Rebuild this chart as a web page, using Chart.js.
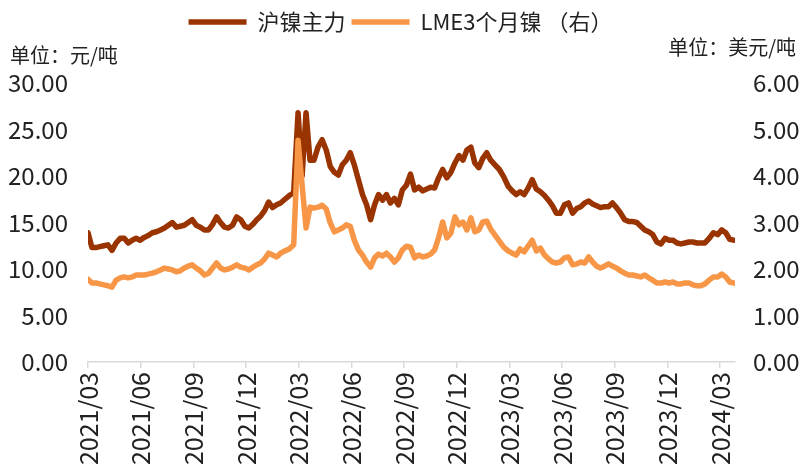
<!DOCTYPE html>
<html>
<head>
<meta charset="utf-8">
<title>沪镍主力 / LME3个月镍</title>
<script src="https://cdn.jsdelivr.net/npm/chart.js@4"></script>
<style>
  html, body { margin: 0; padding: 0; background: #fff; }
  #wrap { width: 801px; height: 468px; }
</style>
</head>
<body>
<div id="wrap"><canvas id="Graph"></canvas></div>
<script>
// weekly closes starting from the first week of 2021/03
const startDate = [2021, 3, 1];

// 沪镍主力, 万元/吨 (left axis)
const shNickel = [
  13.9, 12.3, 12.3, 12.4, 12.5, 12.6, 12.0, 12.8, 13.3, 13.3,
  12.8, 13.1, 13.3, 13.1, 13.4, 13.6, 13.9, 14.0, 14.2, 14.4,
  14.7, 15.0, 14.5, 14.6, 14.7, 15.0, 15.3, 14.7, 14.5, 14.2,
  14.2, 14.8, 15.6, 15.0, 14.5, 14.4, 14.7, 15.6, 15.3, 14.6,
  14.4, 14.8, 15.3, 15.7, 16.3, 17.2, 16.6, 16.9, 17.1, 17.5,
  17.9, 18.2, 26.8, 20.0, 26.8, 21.7, 21.7, 23.1, 23.9, 22.8,
  21.0, 20.4, 20.1, 21.2, 21.7, 22.5, 21.2, 19.6, 18.0, 16.9,
  15.3, 16.9, 18.0, 17.4, 18.0, 17.1, 17.6, 16.9, 18.5, 19.0,
  20.2, 18.5, 18.8, 18.4, 18.6, 18.8, 18.7, 19.8, 20.7, 19.8,
  20.4, 21.4, 22.2, 21.7, 22.8, 23.1, 21.4, 20.9, 21.9, 22.5,
  21.7, 21.2, 20.7, 19.9, 18.9, 18.4, 18.0, 18.3, 18.0, 18.7,
  19.6, 18.6, 18.3, 17.9, 17.4, 16.8, 16.0, 16.0, 16.9, 17.1,
  16.0, 16.5, 16.7, 17.1, 17.3, 17.0, 16.8, 16.6, 16.7, 16.7,
  17.1, 16.6, 16.0, 15.3, 15.1, 15.1, 15.0, 14.6, 14.2, 14.0,
  13.7, 12.9, 12.7, 13.3, 13.1, 13.1, 12.8, 12.7, 12.8, 12.9,
  12.9, 12.8, 12.8, 12.8, 13.3, 13.9, 13.7, 14.2, 13.9, 13.2,
  13.1
];

// LME3个月镍, 万美元/吨 (right axis)
const lmeNickel = [
  1.78, 1.70, 1.70, 1.68, 1.66, 1.64, 1.61, 1.76, 1.81, 1.83,
  1.81, 1.83, 1.87, 1.87, 1.87, 1.89, 1.91, 1.94, 1.98, 2.02,
  2.00, 1.98, 1.94, 1.96, 2.02, 2.06, 2.09, 2.02, 1.96, 1.87,
  1.91, 2.02, 2.13, 2.02, 1.98, 2.00, 2.04, 2.09, 2.04, 2.02,
  1.98, 2.04, 2.09, 2.13, 2.22, 2.34, 2.30, 2.26, 2.34, 2.39,
  2.43, 2.52, 4.77, 3.81, 2.88, 3.33, 3.31, 3.33, 3.37, 3.29,
  2.99, 2.80, 2.84, 2.88, 2.95, 2.92, 2.62, 2.41, 2.30, 2.15,
  2.04, 2.24, 2.32, 2.28, 2.34, 2.26, 2.15, 2.24, 2.41, 2.49,
  2.47, 2.24, 2.30, 2.26, 2.28, 2.32, 2.41, 2.67, 3.01, 2.67,
  2.77, 3.12, 2.95, 3.01, 2.84, 3.10, 2.80, 2.84, 3.01, 3.03,
  2.86, 2.73, 2.60, 2.47, 2.39, 2.34, 2.30, 2.43, 2.37, 2.49,
  2.62, 2.39, 2.45, 2.30, 2.22, 2.15, 2.13, 2.15, 2.24, 2.26,
  2.09, 2.11, 2.15, 2.13, 2.26, 2.15, 2.06, 2.02, 2.06, 2.11,
  2.06, 2.02, 1.96, 1.91, 1.87, 1.87, 1.85, 1.83, 1.87, 1.81,
  1.76, 1.70, 1.70, 1.72, 1.70, 1.72, 1.68, 1.68, 1.70, 1.70,
  1.66, 1.64, 1.64, 1.68, 1.76, 1.83, 1.83, 1.89, 1.83, 1.72,
  1.70
];

const tickLabels = [
  '2021/03', '2021/06', '2021/09', '2021/12',
  '2022/03', '2022/06', '2022/09', '2022/12',
  '2023/03', '2023/06', '2023/09', '2023/12',
  '2024/03'
];

const leftUnit = '单位：元/吨';
const rightUnit = '单位：美元/吨';

// months elapsed since 2021/03, fractional within the month
function monthOffset(d) {
  const days = new Date(d.getFullYear(), d.getMonth() + 1, 0).getDate();
  return (d.getFullYear() - startDate[0]) * 12 + (d.getMonth() + 1 - startDate[1]) + (d.getDate() - 1) / days;
}

function labelOffset(label) {
  const [y, m] = label.split('/').map(Number);
  return monthOffset(new Date(y, m - 1, 1));
}

const weekX = shNickel.map((_, i) => monthOffset(new Date(startDate[0], startDate[1] - 1, startDate[2] + 7 * i)));
const shPoints = shNickel.map((v, i) => ({ x: weekX[i], y: v }));
const lmePoints = lmeNickel.map((v, i) => ({ x: weekX[i], y: v }));

const FONT = '"Noto Sans CJK SC", "Noto Sans", sans-serif';
Chart.defaults.font.family = FONT;
Chart.defaults.color = '#222';

// make the legend band a fixed height so the plot starts at the same place
const legendHeight = {
  id: 'legendHeight',
  beforeInit(chart) {
    const fit = chart.legend.fit;
    chart.legend.fit = function () {
      fit.call(this);
      this.height = 78;
    };
  }
};

// unit captions above both y axes
const unitLabels = {
  id: 'unitLabels',
  afterDraw(chart) {
    const ctx = chart.ctx;
    ctx.save();
    ctx.font = '20px ' + FONT;
    ctx.fillStyle = '#222';
    ctx.textBaseline = 'middle';
    ctx.textAlign = 'left';
    ctx.fillText(leftUnit, 10, 55);
    ctx.textAlign = 'right';
    ctx.fillText(rightUnit, 796, 47);
    ctx.restore();
  }
};

const ctx = document.getElementById('Graph').getContext('2d');

new Chart(ctx, {
  type: 'line',
  data: {
    datasets: [{
      label: '沪镍主力',
      data: shPoints,
      yAxisID: 'y',
      borderColor: '#993300',
      backgroundColor: '#993300',
      borderWidth: 5.5,
      borderCapStyle: 'round',
      borderJoinStyle: 'round',
      pointRadius: 0,
      order: 1
    }, {
      label: 'LME3个月镍 （右）',
      data: lmePoints,
      yAxisID: 'y1',
      borderColor: '#F79646',
      backgroundColor: '#F79646',
      borderWidth: 5.5,
      borderCapStyle: 'round',
      borderJoinStyle: 'round',
      pointRadius: 0,
      order: 0
    }]
  },
  options: {
    responsive: true,
    maintainAspectRatio: false,
    animation: false,
    layout: { padding: { top: 5, left: 0, right: 0, bottom: 0 } },
    plugins: {
      tooltip: { enabled: false },
      legend: {
        position: 'top',
        labels: {
          usePointStyle: true,
          pointStyle: 'line',
          pointStyleWidth: 58,
          boxHeight: 22,
          padding: 6,
          color: '#222',
          font: { size: 22 },
          sort: (a, b) => a.datasetIndex - b.datasetIndex
        }
      }
    },
    scales: {
      x: {
        type: 'linear',
        min: 0,
        max: 36.85,
        afterBuildTicks: (s) => {
          s.ticks = tickLabels.map(l => ({ value: labelOffset(l) }));
        },
        afterFit: (s) => { s.height = 106; },
        ticks: {
          autoSkip: false,
          minRotation: 90,
          maxRotation: 90,
          padding: 4,
          color: '#222',
          font: { size: 25 },
          callback: (v) => {
            const k = tickLabels.findIndex(l => Math.abs(labelOffset(l) - v) < 1e-6);
            return k >= 0 ? tickLabels[k] : '';
          }
        },
        grid: {
          display: true,
          drawOnChartArea: false,
          drawTicks: true,
          tickLength: 6,
          color: '#d9d9d9',
          lineWidth: 1.5
        },
        border: { display: true, color: '#d9d9d9', width: 1.5 }
      },
      y: {
        position: 'left',
        min: 0,
        max: 30,
        afterFit: (s) => { s.width = 88; },
        ticks: {
          stepSize: 5,
          padding: 20,
          color: '#222',
          font: { size: 24 },
          callback: (v) => v.toFixed(2)
        },
        grid: { display: false, drawTicks: false },
        border: { display: false }
      },
      y1: {
        position: 'right',
        min: 0,
        max: 6,
        afterFit: (s) => { s.width = 66; },
        ticks: {
          stepSize: 1,
          padding: 18,
          color: '#222',
          font: { size: 24 },
          callback: (v) => v.toFixed(2)
        },
        grid: { display: false, drawTicks: false },
        border: { display: false }
      }
    }
  },
  plugins: [legendHeight, unitLabels]
});
</script>
</body>
</html>
